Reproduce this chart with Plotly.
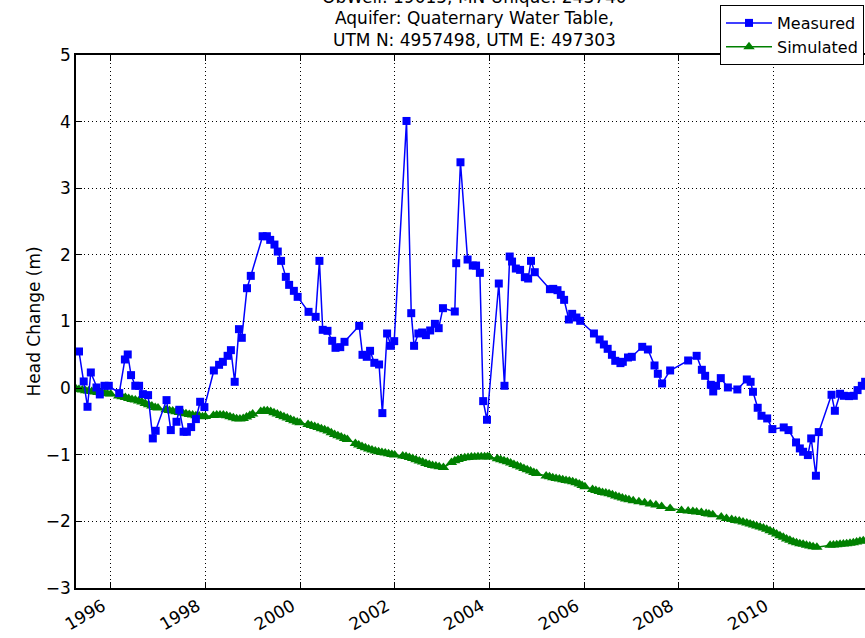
import plotly.graph_objects as go

meas_t = [1995.33, 1995.43, 1995.51, 1995.58, 1995.70, 1995.77, 1995.87, 1995.96, 1996.18, 1996.30,
          1996.36, 1996.43, 1996.52, 1996.60, 1996.68, 1996.79, 1996.89, 1996.95, 1997.18, 1997.27,
          1997.39, 1997.45, 1997.54, 1997.61, 1997.70, 1997.80, 1997.89, 1997.98, 1998.18, 1998.29,
          1998.37, 1998.47, 1998.54, 1998.62, 1998.71, 1998.77, 1998.88, 1998.96, 1999.21, 1999.30,
          1999.37, 1999.46, 1999.53, 1999.60, 1999.70, 1999.77, 1999.87, 1999.95, 2000.18, 2000.33,
          2000.41, 2000.48, 2000.58, 2000.68, 2000.75, 2000.85, 2000.94, 2001.25, 2001.32, 2001.41,
          2001.48, 2001.57, 2001.67, 2001.74, 2001.84, 2001.92, 2001.99, 2002.25, 2002.35, 2002.41,
          2002.50, 2002.58, 2002.66, 2002.75, 2002.85, 2002.93, 2003.02, 2003.27, 2003.30, 2003.39,
          2003.54, 2003.65, 2003.72, 2003.80, 2003.87, 2003.95, 2004.20, 2004.32, 2004.43, 2004.48,
          2004.56, 2004.65, 2004.75, 2004.82, 2004.88, 2004.96, 2005.28, 2005.35, 2005.44, 2005.51,
          2005.58, 2005.68, 2005.75, 2005.84, 2005.92, 2006.21, 2006.33, 2006.42, 2006.50, 2006.59,
          2006.66, 2006.77, 2006.82, 2006.93, 2007.01, 2007.23, 2007.35, 2007.49, 2007.56, 2007.65,
          2007.82, 2008.20, 2008.38, 2008.49, 2008.56, 2008.68, 2008.73, 2008.79, 2008.89, 2009.04,
          2009.24, 2009.44, 2009.52, 2009.57, 2009.67, 2009.75, 2009.87, 2009.98, 2010.22, 2010.32,
          2010.48, 2010.56, 2010.63, 2010.73, 2010.80, 2010.90, 2010.96, 2011.23, 2011.30, 2011.41,
          2011.49, 2011.60, 2011.70, 2011.78, 2011.87, 2011.94]
meas_v = [0.55, 0.10, -0.28, 0.235, 0.01, -0.095, 0.035, 0.035, -0.075, 0.43,
          0.505, 0.195, 0.035, 0.035, -0.09, -0.105, -0.755, -0.64, -0.18, -0.63,
          -0.505, -0.325, -0.655, -0.655, -0.585, -0.465, -0.205, -0.285, 0.265, 0.35,
          0.395, 0.485, 0.57, 0.095, 0.885, 0.755, 1.50, 1.685, 2.28, 2.28,
          2.225, 2.155, 2.05, 1.91, 1.67, 1.55, 1.46, 1.37, 1.145, 1.07,
          1.91, 0.875, 0.86, 0.71, 0.605, 0.615, 0.695, 0.935, 0.50, 0.47,
          0.56, 0.38, 0.355, -0.375, 0.82, 0.635, 0.705, 4.01, 1.125, 0.635,
          0.82, 0.835, 0.795, 0.865, 0.965, 0.90, 1.20, 1.15, 1.875, 3.39,
          1.93, 1.84, 1.84, 1.73, -0.195, -0.475, 1.57, 0.035, 1.975, 1.90,
          1.795, 1.775, 1.665, 1.645, 1.91, 1.74, 1.485, 1.49, 1.47, 1.40,
          1.325, 1.03, 1.115, 1.06, 1.01, 0.82, 0.73, 0.655, 0.59, 0.50,
          0.41, 0.375, 0.395, 0.46, 0.47, 0.62, 0.58, 0.34, 0.215, 0.07,
          0.265, 0.415, 0.485, 0.275, 0.185, 0.05, -0.05, 0.035, 0.15, 0.01,
          -0.02, 0.13, 0.095, -0.055, -0.295, -0.415, -0.455, -0.615, -0.59, -0.63,
          -0.815, -0.905, -0.955, -1.005, -0.755, -1.315, -0.66, -0.10, -0.34, -0.085,
          -0.115, -0.12, -0.115, -0.03, 0.035, 0.095]

sim_t = [1995.27, 1995.33, 1995.40, 1995.47, 1995.53, 1995.60, 1995.67, 1995.73, 1995.80, 1995.87, 1995.93,
         1996.00, 1996.17, 1996.24, 1996.31, 1996.38, 1996.45, 1996.52, 1996.59, 1996.66, 1996.73, 1996.80, 1996.87, 1996.94,
         1997.00, 1997.17, 1997.24, 1997.31, 1997.38, 1997.45, 1997.52, 1997.59, 1997.66, 1997.73, 1997.80, 1997.87, 1997.94,
         1998.00, 1998.17, 1998.24, 1998.31, 1998.38, 1998.45, 1998.52, 1998.59, 1998.66, 1998.73, 1998.80, 1998.87, 1998.94,
         1999.00, 1999.17, 1999.24, 1999.31, 1999.38, 1999.45, 1999.52, 1999.59, 1999.66, 1999.73, 1999.80, 1999.87, 1999.94,
         2000.00, 2000.17, 2000.24, 2000.31, 2000.38, 2000.45, 2000.52, 2000.59, 2000.66, 2000.73, 2000.80, 2000.87, 2000.94,
         2001.00, 2001.17, 2001.24, 2001.31, 2001.38, 2001.45, 2001.52, 2001.59, 2001.66, 2001.73, 2001.80, 2001.87, 2001.94,
         2002.00, 2002.17, 2002.24, 2002.31, 2002.38, 2002.45, 2002.52, 2002.59, 2002.66, 2002.73, 2002.80, 2002.87, 2002.94,
         2003.03, 2003.20, 2003.27, 2003.34, 2003.41, 2003.48, 2003.55, 2003.62, 2003.69, 2003.76, 2003.83, 2003.90, 2003.96,
         2004.00, 2004.17, 2004.24, 2004.31, 2004.38, 2004.45, 2004.52, 2004.59, 2004.66, 2004.73, 2004.80, 2004.87, 2004.94,
         2005.00, 2005.20, 2005.27, 2005.34, 2005.41, 2005.48, 2005.55, 2005.62, 2005.69, 2005.76, 2005.83, 2005.90, 2005.96,
         2006.02, 2006.18, 2006.25, 2006.32, 2006.39, 2006.46, 2006.53, 2006.60, 2006.67, 2006.74, 2006.81, 2006.88, 2006.95,
         2007.04, 2007.16, 2007.28, 2007.40, 2007.52, 2007.64, 2007.82,
         2008.06, 2008.20, 2008.30, 2008.38, 2008.48, 2008.58, 2008.64, 2008.72, 2008.90,
         2009.01, 2009.12, 2009.20, 2009.28, 2009.36, 2009.44, 2009.51, 2009.58, 2009.65, 2009.72, 2009.79, 2009.86, 2009.93,
         2010.00, 2010.07, 2010.14, 2010.21, 2010.28, 2010.35, 2010.42, 2010.49, 2010.56, 2010.63, 2010.70, 2010.77, 2010.84, 2010.92,
         2011.20, 2011.27, 2011.34, 2011.41, 2011.48, 2011.55, 2011.62, 2011.69, 2011.76, 2011.83, 2011.90, 2011.97]
sim_v = [-0.015, -0.02, -0.03, -0.04, -0.045, -0.05, -0.06, -0.065, -0.07, -0.08, -0.085,
         -0.09, -0.12, -0.13, -0.14, -0.155, -0.17, -0.18, -0.195, -0.21, -0.23, -0.25, -0.27, -0.29,
         -0.30, -0.325, -0.335, -0.345, -0.355, -0.365, -0.375, -0.385, -0.395, -0.405, -0.415, -0.42, -0.43,
         -0.425, -0.41, -0.405, -0.405, -0.405, -0.415, -0.43, -0.445, -0.46, -0.465, -0.455, -0.435, -0.41,
         -0.39, -0.35, -0.34, -0.34, -0.35, -0.37, -0.39, -0.41, -0.43, -0.45, -0.47, -0.49, -0.51,
         -0.52, -0.545, -0.56, -0.575, -0.59, -0.61, -0.625, -0.645, -0.67, -0.695, -0.715, -0.735, -0.755,
         -0.77, -0.83, -0.855, -0.875, -0.895, -0.915, -0.93, -0.945, -0.955, -0.965, -0.975, -0.985, -0.995,
         -1.005, -1.02, -1.025, -1.04, -1.055, -1.075, -1.095, -1.11, -1.13, -1.145, -1.16, -1.17, -1.18,
         -1.19, -1.115, -1.09, -1.07, -1.055, -1.045, -1.04, -1.035, -1.035, -1.03, -1.03, -1.03, -1.03,
         -1.035, -1.06, -1.075, -1.09, -1.105, -1.125, -1.145, -1.165, -1.185, -1.205, -1.225, -1.245, -1.265,
         -1.28, -1.32, -1.33, -1.345, -1.355, -1.365, -1.375, -1.385, -1.395, -1.405, -1.42, -1.44, -1.46,
         -1.48, -1.52, -1.535, -1.55, -1.565, -1.575, -1.585, -1.60, -1.62, -1.635, -1.65, -1.665, -1.675,
         -1.69, -1.705, -1.72, -1.74, -1.755, -1.775, -1.805,
         -1.835, -1.845, -1.85, -1.86, -1.865, -1.88, -1.89, -1.90, -1.935,
         -1.955, -1.97, -1.985, -1.995, -2.01, -2.025, -2.04, -2.055, -2.07, -2.085, -2.10, -2.12, -2.14,
         -2.165, -2.19, -2.215, -2.24, -2.265, -2.285, -2.305, -2.32, -2.335, -2.345, -2.36, -2.37, -2.38, -2.39,
         -2.36, -2.355, -2.35, -2.345, -2.34, -2.335, -2.33, -2.32, -2.31, -2.30, -2.29, -2.285]

x_ticks = [1996, 1998, 2000, 2002, 2004, 2006, 2008, 2010]
y_ticks = [-3, -2, -1, 0, 1, 2, 3, 4, 5]
title_lines = ["ObWell: 19015, MN Unique: 243740",
               "Aquifer: Quaternary Water Table,",
               "UTM N: 4957498, UTM E: 497303"]
y_label = "Head Change (m)"

FONT = "DejaVu Sans"
fig = go.Figure()
fig.add_trace(go.Scatter(
    x=sim_t, y=sim_v, mode="lines+markers", name="Simulated",
    line=dict(color="#008000", width=1.5),
    marker=dict(symbol="triangle-up", size=10, color="#008000"),
))
fig.add_trace(go.Scatter(
    x=meas_t, y=meas_v, mode="lines+markers", name="Measured",
    line=dict(color="#0000ff", width=1.5),
    marker=dict(symbol="square", size=8, color="#0000ff"),
))

W, H = 865, 638
L, R, T, B = 76, 0, 55, 50
PW, PH = W - L - R, H - T - B
fig.update_layout(
    width=W, height=H,
    margin=dict(l=L, r=R, t=T, b=B, pad=0, autoexpand=False),
    paper_bgcolor="white", plot_bgcolor="white",
    font=dict(family=FONT, color="black", size=16),
    showlegend=True,
    legend=dict(
        x=(720 - L) / PW, y=1 + (T - 5) / PH,
        xanchor="left", yanchor="top",
        bgcolor="white", bordercolor="black", borderwidth=1,
        font=dict(family=FONT, size=16), traceorder="reversed",
        tracegroupgap=0, itemwidth=46,
    ),
    xaxis=dict(
        range=[1995.267, 2011.937], automargin=False,
        tickmode="array", tickvals=x_ticks, ticktext=[str(v) for v in x_ticks],
        tickangle=-30, tickfont=dict(size=17), ticklabelshift=-8,
        ticks="inside", ticklen=6, tickcolor="black",
        showline=True, linecolor="black", linewidth=1.5, mirror="ticks",
        showgrid=True, gridcolor="black", gridwidth=1, griddash="1px,3px",
        zeroline=False,
    ),
    yaxis=dict(
        range=[-3, 5], automargin=False,
        tickmode="array", tickvals=y_ticks,
        tickfont=dict(size=17),
        ticks="inside", ticklen=6, tickcolor="black",
        showline=True, linecolor="black", linewidth=1.5,
        showgrid=True, gridcolor="black", gridwidth=1, griddash="1px,3px",
        zeroline=False,
    ),
)

fig.add_annotation(
    text=y_label, xref="paper", yref="paper", x=(33 - L) / PW, y=0.5,
    xanchor="center", yanchor="middle", textangle=-90,
    showarrow=False, font=dict(family=FONT, size=17, color="black"),
)

title_cx = (474.5 - L) / PW
for line, shift in zip(title_lines, [58, 37, 15]):
    fig.add_annotation(
        text=line, xref="paper", yref="paper", x=title_cx, y=1,
        xanchor="center", yanchor="middle", yshift=shift,
        showarrow=False, font=dict(family=FONT, size=17, color="black"),
    )

fig.write_html("out.html", config={"displayModeBar": False},
               post_script="document.body.style.margin='0';")
